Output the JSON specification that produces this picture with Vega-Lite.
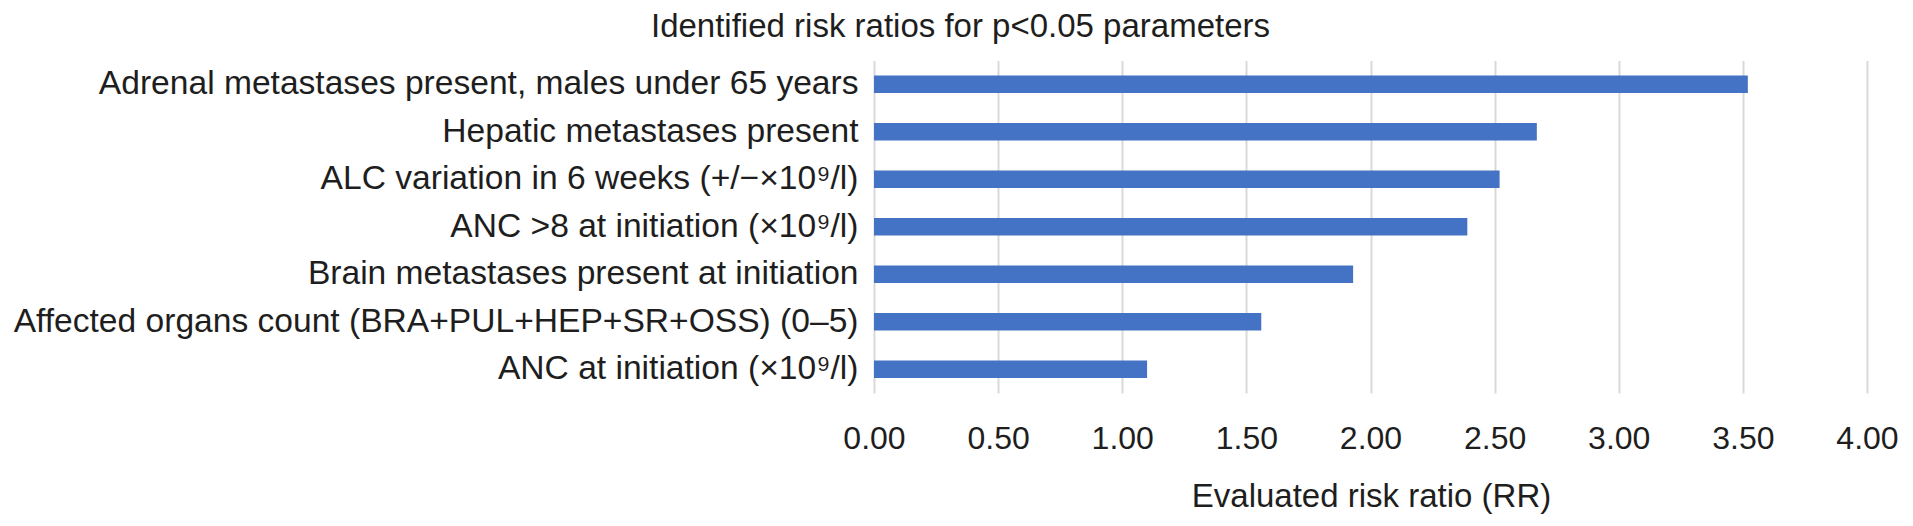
{
  "$schema": "https://vega.github.io/schema/vega-lite/v6.json",
  "autosize": {"type": "none"},
  "width": 993,
  "height": 332.5,
  "padding": {"left": 874, "top": 60.5, "right": 46, "bottom": 133},
  "background": "white",
  "title": {
    "text": "Identified risk ratios for p<0.05 parameters",
    "anchor": "middle",
    "dx": -410,
    "dy": 33,
    "offset": 23.5,
    "baseline": "alphabetic",
    "font": "Liberation Sans",
    "fontSize": 33,
    "fontWeight": "normal",
    "color": "#1e1e1e"
  },
  "config": {
    "view": {"stroke": null},
    "font": "Liberation Sans"
  },
  "data": {
    "values": [
      {"parameter": "Adrenal metastases present, males under 65 years", "rr": 3.52},
      {"parameter": "Hepatic metastases present", "rr": 2.67},
      {"parameter": "ALC variation in 6 weeks (+/−×10⁹/l)", "rr": 2.52},
      {"parameter": "ANC >8 at initiation (×10⁹/l)", "rr": 2.39},
      {"parameter": "Brain metastases present at initiation", "rr": 1.93},
      {"parameter": "Affected organs count (BRA+PUL+HEP+SR+OSS) (0–5)", "rr": 1.56},
      {"parameter": "ANC at initiation (×10⁹/l)", "rr": 1.10}
    ]
  },
  "mark": {"type": "bar", "color": "#4472C4", "size": 17.5},
  "encoding": {
    "y": {
      "field": "parameter",
      "type": "nominal",
      "sort": null,
      "scale": {"paddingInner": 0, "paddingOuter": 0},
      "axis": {
        "title": null,
        "domain": false,
        "ticks": false,
        "labelFontSize": 33.6,
        "labelColor": "#1e1e1e",
        "labelPadding": 16,
        "labelLimit": 900
      }
    },
    "x": {
      "field": "rr",
      "type": "quantitative",
      "scale": {"domain": [0, 4], "nice": false},
      "axis": {
        "values": [0, 0.5, 1, 1.5, 2, 2.5, 3, 3.5, 4],
        "format": ".2f",
        "title": "Evaluated risk ratio (RR)",
        "domain": false,
        "ticks": false,
        "grid": true,
        "gridColor": "#d9d9d9",
        "gridWidth": 2,
        "labelFontSize": 32,
        "labelColor": "#1e1e1e",
        "labelPadding": 30,
        "labelFlush": false,
        "titleFontSize": 33,
        "titleFontWeight": "normal",
        "titleColor": "#1e1e1e",
        "titleBaseline": "alphabetic",
        "titleAlign": "center",
        "titleX": 497,
        "titleY": 113.7
      }
    }
  }
}
